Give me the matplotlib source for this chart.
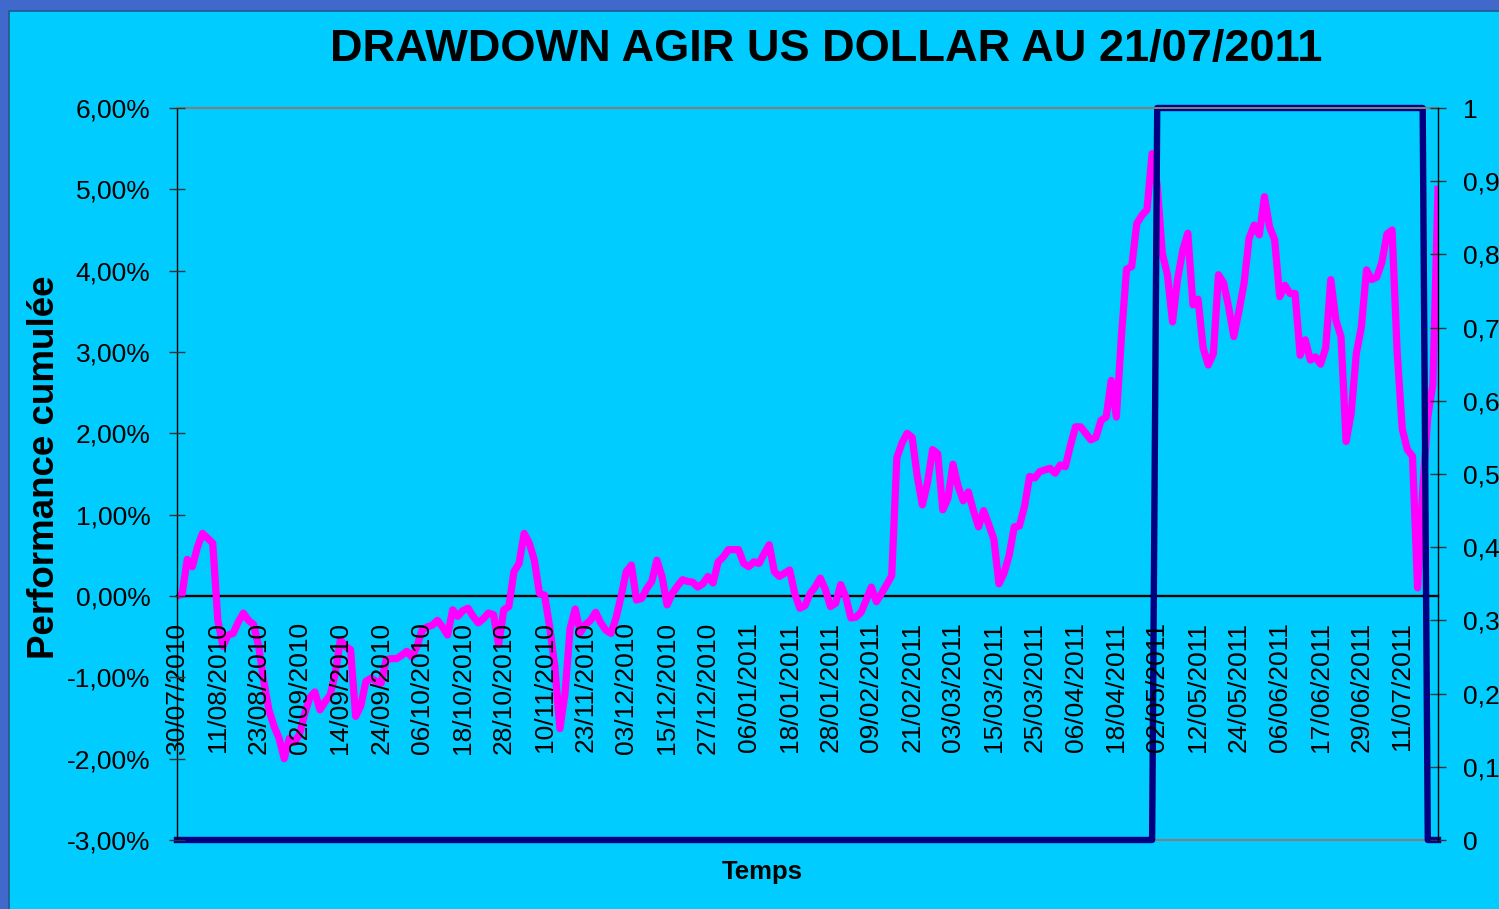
import matplotlib
matplotlib.use('Agg')
import matplotlib.pyplot as plt
from matplotlib.patches import Rectangle
from matplotlib.ticker import FuncFormatter
import numpy as np
import pandas as pd

plt.rcParams['font.family'] = ['Liberation Sans', 'DejaVu Sans']

# jours ouvres, feries francais exclus
holidays = ['2010-11-01', '2010-11-11', '2011-04-22', '2011-04-25',
            '2011-06-02', '2011-06-13', '2011-07-14']
dates = pd.bdate_range('2010-07-30', '2011-07-21', freq='C', holidays=holidays)

# performance cumulee (%)
perf = [0.00, 0.02, 0.45, 0.36, 0.60, 0.77, 0.71, 0.65, -0.30, -0.62,
        -0.48, -0.46, -0.32, -0.21, -0.30, -0.35, -0.62, -1.05, -1.40, -1.60,
        -1.75, -2.00, -1.75, -1.80, -1.70, -1.45, -1.25, -1.18, -1.40, -1.30,
        -1.22, -0.95, -0.54, -0.62, -0.66, -1.48, -1.35, -1.05, -1.01, -1.05,
        -1.07, -0.78, -0.77, -0.77, -0.73, -0.68, -0.75, -0.62, -0.42, -0.38,
        -0.36, -0.30, -0.38, -0.48, -0.17, -0.25, -0.18, -0.15, -0.25, -0.33,
        -0.28, -0.21, -0.23, -0.60, -0.17, -0.13, 0.30, 0.40, 0.77, 0.65,
        0.44, 0.03, 0.01, -0.38, -0.87, -1.63, -1.20, -0.40, -0.16, -0.45,
        -0.35, -0.30, -0.20, -0.33, -0.42, -0.46, -0.27, 0.00, 0.30, 0.38,
        -0.05, -0.03, 0.09, 0.18, 0.44, 0.24, -0.11, 0.03, 0.12, 0.20,
        0.18, 0.17, 0.11, 0.15, 0.24, 0.16, 0.42, 0.48, 0.57, 0.57,
        0.57, 0.40, 0.36, 0.42, 0.40, 0.52, 0.63, 0.30, 0.24, 0.28,
        0.32, 0.03, -0.15, -0.12, 0.03, 0.11, 0.22, 0.08, -0.13, -0.09,
        0.14, -0.01, -0.27, -0.26, -0.20, -0.05, 0.11, -0.07, 0.03, 0.14,
        0.25, 1.70, 1.88, 2.00, 1.95, 1.47, 1.12, 1.39, 1.80, 1.75,
        1.06, 1.20, 1.62, 1.35, 1.17, 1.28, 1.05, 0.85, 1.05, 0.88,
        0.70, 0.15, 0.28, 0.50, 0.85, 0.86, 1.10, 1.47, 1.45, 1.53,
        1.55, 1.57, 1.51, 1.61, 1.59, 1.85, 2.08, 2.08, 2.00, 1.92,
        1.95, 2.16, 2.20, 2.65, 2.20, 3.20, 4.02, 4.05, 4.58, 4.68,
        4.75, 5.44, 5.05, 4.21, 3.95, 3.37, 3.90, 4.25, 4.46, 3.58,
        3.65, 3.05, 2.84, 2.98, 3.95, 3.85, 3.55, 3.19, 3.50, 3.84,
        4.40, 4.56, 4.44, 4.91, 4.54, 4.38, 3.68, 3.82, 3.72, 3.72,
        2.96, 3.15, 2.90, 2.94, 2.85, 3.05, 3.89, 3.39, 3.19, 1.90,
        2.25, 2.98, 3.31, 4.01, 3.89, 3.92, 4.10, 4.45, 4.50, 3.00,
        2.05, 1.80, 1.72, 0.10, 1.30, 2.20, 2.60, 5.00]

# indicateur de drawdown (axe secondaire)
drawdown = [0] * 192 + [1] * 53 + [0] * 3

x = np.arange(len(perf))
tick_idx = x[::8]
tick_labels = [d.strftime('%d/%m/%Y') for d in dates[::8]]

cyan = '#00CCFF'
fig = plt.figure(figsize=(14.99, 9.09), dpi=100)
fig.patch.set_facecolor('#4169CC')
fig.patches.append(Rectangle((9 / 1499, -0.01), 1.0, 1 - 11 / 909 + 0.01,
                             transform=fig.transFigure, facecolor=cyan,
                             edgecolor='#1E5A8C', lw=1.2, zorder=-10))

ax = fig.add_axes([177 / 1499, 1 - 840 / 909, 1261 / 1499, 732 / 909])
ax.set_facecolor(cyan)
ax2 = ax.twinx()

ax.plot(x, perf, color='#FF00FF', lw=5.2, solid_joinstyle='round', zorder=2)
ax.plot(x, drawdown, color='#000080', lw=4.6, transform=ax2.transData,
        clip_on=False, zorder=2.1)

ax.set_xlim(0, len(perf) - 1)
ax.set_ylim(-3, 6)
ax2.set_ylim(0, 1)

ax.set_axisbelow(False)
ax.spines['bottom'].set_position(('data', 0))
ax.spines['bottom'].set_color('black')
ax.spines['bottom'].set_linewidth(1.7)
ax.spines['bottom'].set_zorder(1.9)
ax.spines['top'].set_color('#808080')
ax.spines['top'].set_linewidth(1.5)
ax.spines['right'].set_visible(False)
ax.spines['left'].set_color('black')
ax.spines['left'].set_linewidth(1.0)
for s in ('top', 'left', 'bottom'):
    ax2.spines[s].set_visible(False)
ax2.spines['right'].set_color('black')
ax2.spines['right'].set_linewidth(1.0)
ax.axhline(-3, color='#808080', lw=1.5, clip_on=False, zorder=1.8)

ax.set_yticks(np.arange(-3, 7, 1))
ax.yaxis.set_major_formatter(FuncFormatter(lambda v, p: f'{v:.2f}%'.replace('.', ',')))
ax2.set_yticks(np.round(np.arange(0, 1.01, 0.1), 1))
ax2.yaxis.set_major_formatter(FuncFormatter(lambda v, p: f'{round(v, 1):g}'.replace('.', ',')))

ax.set_xticks(tick_idx)
ax.set_xticklabels(tick_labels)

ax.tick_params(axis='x', length=0, pad=18.5, labelsize=19, labelrotation=90)
ax.tick_params(axis='y', direction='inout', length=12, width=1, color='#333333',
               pad=13, labelsize=19)
ax2.tick_params(axis='y', direction='inout', length=12, width=1, color='#333333',
                pad=12, labelsize=19)

fig.text(826 / 1499, 1 - 50 / 909, 'DRAWDOWN AGIR US DOLLAR AU 21/07/2011',
         ha='center', va='center', fontsize=32.5, fontweight='bold')
fig.text(45 / 1499, 1 - 467 / 909, 'Performance cumulée', rotation=90,
         ha='center', va='center', fontsize=26.5, fontweight='bold')
fig.text(762 / 1499, 1 - 872 / 909, 'Temps', ha='center', va='center',
         fontsize=18.5, fontweight='bold')

fig.savefig('out.png', dpi=100, facecolor=fig.get_facecolor())
